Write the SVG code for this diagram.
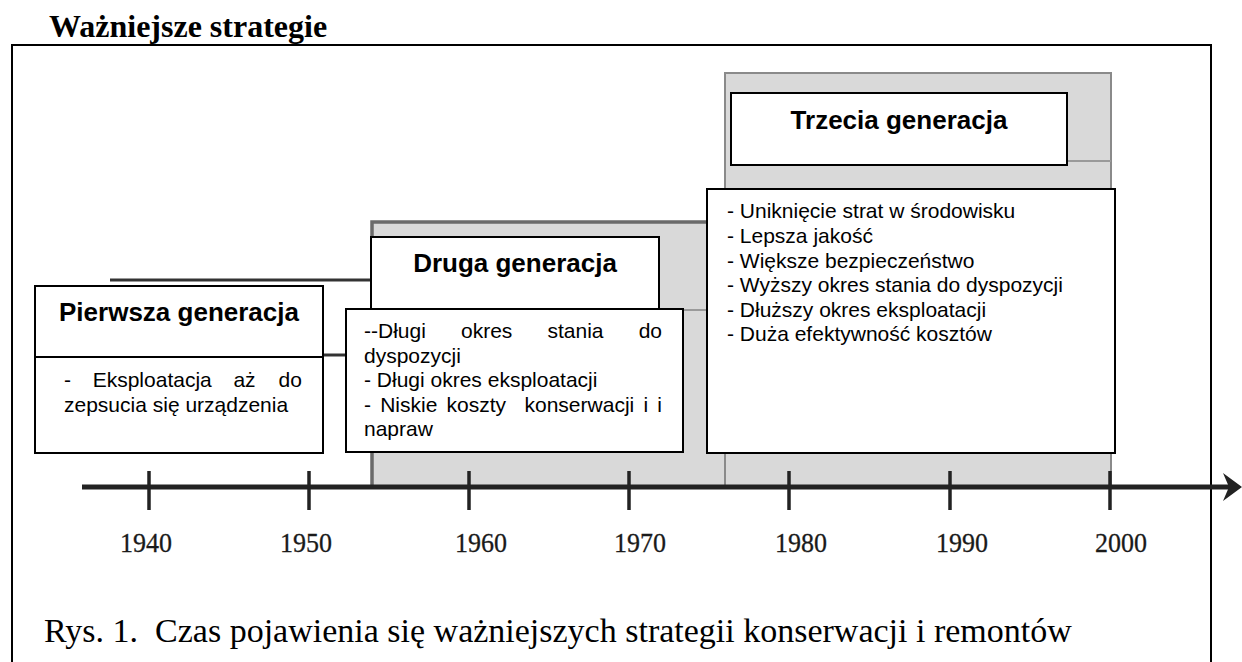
<svg xmlns="http://www.w3.org/2000/svg" width="1242" height="662" viewBox="0 0 1242 662">
<style>
.box{fill:#fff;stroke:#000;stroke-width:2}
.hdr{font-family:"Liberation Sans",Arial,sans-serif;font-weight:bold;font-size:26px;fill:#000;text-anchor:middle}
.body{font-family:"Liberation Sans",Arial,sans-serif;font-size:21px;fill:#000}
.region{fill:#d9d9d9;stroke:#8a8a8a;stroke-width:2}
.edge{stroke:#6a6a6a;stroke-width:3.5;fill:none}
.faint{stroke:#9a9a9a;stroke-width:2;fill:none}
.dark{stroke:#333;stroke-width:3;fill:none}
.tick{stroke:#222;stroke-width:3.5}
.year{font-family:"Liberation Serif","Times New Roman",serif;font-size:28px;fill:#1a1a1a;stroke:#1a1a1a;stroke-width:0.3;text-anchor:middle}
</style>
<rect width="1242" height="662" fill="#fff"/>
<text x="49" y="37" font-family="'Liberation Serif','Times New Roman',serif" font-weight="bold" font-size="32" fill="#000">Ważniejsze strategie</text>
<path d="M12,662 V45 H1211 V662" fill="none" stroke="#000" stroke-width="2"/>

<g id="background">
<rect class="region" x="372" y="222" width="353" height="265"/>
<rect class="region" x="725" y="73" width="386" height="414"/>
<path class="edge" d="M372,487 V222 H725"/>
<path class="faint" d="M1067,161 H1111"/>
<path class="faint" d="M683,310 H725"/>
<path class="dark" d="M110,280 H372"/>
<path class="dark" d="M323,355 H346"/>
</g>

<g id="axis">
<line x1="82" y1="487" x2="1232" y2="487" stroke="#222" stroke-width="5"/>
<polygon points="1242,487 1223,473 1229,487 1223,501" fill="#222"/>
<line class="tick" x1="149" y1="471" x2="149" y2="510"/>
<line class="tick" x1="309" y1="471" x2="309" y2="510"/>
<line class="tick" x1="469" y1="471" x2="469" y2="510"/>
<line class="tick" x1="629" y1="471" x2="629" y2="510"/>
<line class="tick" x1="789" y1="471" x2="789" y2="510"/>
<line class="tick" x1="950" y1="471" x2="950" y2="510"/>
<line class="tick" x1="1110" y1="471" x2="1110" y2="510"/>
<text class="year" x="146" y="552" textLength="52" lengthAdjust="spacingAndGlyphs">1940</text>
<text class="year" x="306" y="552" textLength="52" lengthAdjust="spacingAndGlyphs">1950</text>
<text class="year" x="481" y="552" textLength="52" lengthAdjust="spacingAndGlyphs">1960</text>
<text class="year" x="640" y="552" textLength="52" lengthAdjust="spacingAndGlyphs">1970</text>
<text class="year" x="801" y="552" textLength="52" lengthAdjust="spacingAndGlyphs">1980</text>
<text class="year" x="962" y="552" textLength="52" lengthAdjust="spacingAndGlyphs">1990</text>
<text class="year" x="1121" y="552" textLength="52" lengthAdjust="spacingAndGlyphs">2000</text>
</g>

<g id="pierwsza">
<rect class="box" x="35" y="286" width="288" height="167"/>
<line x1="35" y1="357" x2="323" y2="357" stroke="#000" stroke-width="2"/>
<text class="hdr" x="179" y="321">Pierwsza generacja</text>
<text class="body" y="387"><tspan x="64">-</tspan><tspan x="92.7">Eksploatacja</tspan><tspan x="233.4">aż</tspan><tspan x="278.5">do</tspan></text>
<text class="body" x="64" y="412">zepsucia się urządzenia</text>
</g>

<g id="druga">
<rect class="box" x="371" y="237" width="288" height="72"/>
<text class="hdr" x="515" y="272">Druga generacja</text>
<rect class="box" x="346" y="309" width="337" height="143"/>
<text class="body" y="338"><tspan x="364">--Długi</tspan><tspan x="461">okres</tspan><tspan x="547.5">stania</tspan><tspan x="638.7">do</tspan></text>
<text class="body" x="364" y="362.6">dyspozycji</text>
<text class="body" x="364" y="387.2">- Długi okres eksploatacji</text>
<text class="body" y="411.8"><tspan x="364">-</tspan><tspan x="380.2">Niskie</tspan><tspan x="446.6">koszty</tspan><tspan x="524.5">konserwacji</tspan><tspan x="643.4">i</tspan><tspan x="657.3">i</tspan></text>
<text class="body" x="364" y="436.4">napraw</text>
</g>

<g id="trzecia">
<rect class="box" x="731" y="93" width="336" height="72"/>
<text class="hdr" x="899" y="129">Trzecia generacja</text>
<rect class="box" x="707" y="189" width="408" height="264"/>
<text class="body" x="727" y="218.3">- Uniknięcie strat w środowisku</text>
<text class="body" x="727" y="243">- Lepsza jakość</text>
<text class="body" x="727" y="267.6">- Większe bezpieczeństwo</text>
<text class="body" x="727" y="292.2">- Wyższy okres stania do dyspozycji</text>
<text class="body" x="727" y="316.8">- Dłuższy okres eksploatacji</text>
<text class="body" x="727" y="341.4">- Duża efektywność kosztów</text>
</g>

<text x="44" y="642" font-family="'Liberation Serif','Times New Roman',serif" font-size="34" fill="#000" xml:space="preserve">Rys. 1.  Czas pojawienia się ważniejszych strategii konserwacji i remontów</text>
</svg>
